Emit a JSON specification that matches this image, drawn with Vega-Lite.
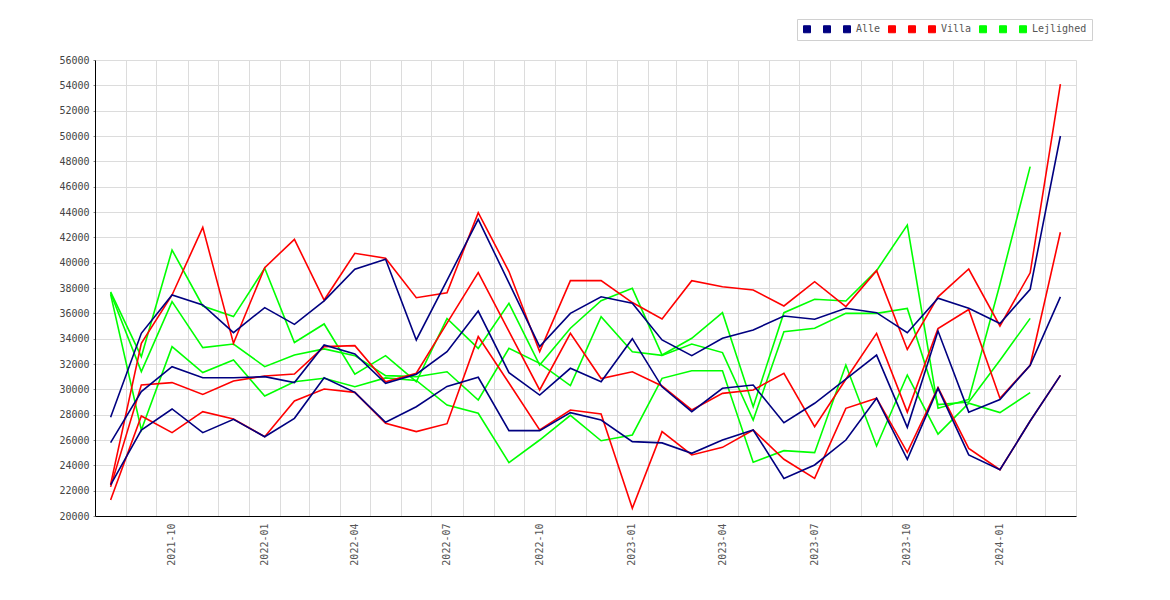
{
  "$schema": "https://vega.github.io/schema/vega-lite/v6.json",
  "width": 981,
  "height": 456,
  "autosize": {"type": "none"},
  "padding": {"left": 95, "top": 60, "right": 94, "bottom": 84},
  "background": "white",
  "config": {"view": {"stroke": null}, "font": "DejaVu Sans Mono"},
  "data": {
    "values": [
      {"m": "2021-08-16T12:00:00", "Alle_a": 27790, "Alle_b": 25790, "Alle": 22450, "Villa_a": 22500, "Villa_b": 22300, "Villa": 21260, "Lejlighed_a": 37700, "Lejlighed_b": 37600, "Lejlighed": 37500},
      {"m": "2021-09-16T00:00:00", "Alle_a": 34420, "Alle_b": 29820, "Alle": 26790, "Villa_a": 33630, "Villa_b": 30340, "Villa": 27900, "Lejlighed_a": 32580, "Lejlighed_b": 31400, "Lejlighed": 26790},
      {"m": "2021-10-16T12:00:00", "Alle_a": 37450, "Alle_b": 31790, "Alle": 28450, "Villa_a": 37450, "Villa_b": 30530, "Villa": 26580, "Lejlighed_a": 41000, "Lejlighed_b": 36920, "Lejlighed": 33370},
      {"m": "2021-11-16T00:00:00", "Alle_a": 36660, "Alle_b": 30920, "Alle": 26580, "Villa_a": 42790, "Villa_b": 29600, "Villa": 28240, "Lejlighed_a": 36580, "Lejlighed_b": 33290, "Lejlighed": 31320},
      {"m": "2021-12-16T12:00:00", "Alle_a": 34480, "Alle_b": 30920, "Alle": 27630, "Villa_a": 33630, "Villa_b": 30660, "Villa": 27660, "Lejlighed_a": 35740, "Lejlighed_b": 33580, "Lejlighed": 32320},
      {"m": "2022-01-16T12:00:00", "Alle_a": 36450, "Alle_b": 31000, "Alle": 26260, "Villa_a": 39610, "Villa_b": 31050, "Villa": 26260, "Lejlighed_a": 39560, "Lejlighed_b": 31790, "Lejlighed": 29470},
      {"m": "2022-02-15T00:00:00", "Alle_a": 35130, "Alle_b": 30530, "Alle": 27710, "Villa_a": 41840, "Villa_b": 31210, "Villa": 29080, "Lejlighed_a": 33700, "Lejlighed_b": 32710, "Lejlighed": 30600},
      {"m": "2022-03-16T12:00:00", "Alle_a": 36980, "Alle_b": 33500, "Alle": 30920, "Villa_a": 37050, "Villa_b": 33370, "Villa": 30030, "Lejlighed_a": 35160, "Lejlighed_b": 33190, "Lejlighed": 30870},
      {"m": "2022-04-16T00:00:00", "Alle_a": 39480, "Alle_b": 32790, "Alle": 29760, "Villa_a": 40740, "Villa_b": 33450, "Villa": 29760, "Lejlighed_a": 31190, "Lejlighed_b": 32660, "Lejlighed": 30210},
      {"m": "2022-05-16T12:00:00", "Alle_a": 40270, "Alle_b": 30480, "Alle": 27400, "Villa_a": 40350, "Villa_b": 30600, "Villa": 27320, "Lejlighed_a": 32660, "Lejlighed_b": 31080, "Lejlighed": 30900},
      {"m": "2022-06-16T00:00:00", "Alle_a": 33900, "Alle_b": 31190, "Alle": 28630, "Villa_a": 37230, "Villa_b": 31270, "Villa": 26660, "Lejlighed_a": 30600, "Lejlighed_b": 31000, "Lejlighed": 30700},
      {"m": "2022-07-16T12:00:00", "Alle_a": 38600, "Alle_b": 32970, "Alle": 30230, "Villa_a": 37630, "Villa_b": 35230, "Villa": 27290, "Lejlighed_a": 35590, "Lejlighed_b": 31390, "Lejlighed": 28760},
      {"m": "2022-08-16T12:00:00", "Alle_a": 43420, "Alle_b": 36180, "Alle": 30950, "Villa_a": 43950, "Villa_b": 39210, "Villa": 34160, "Lejlighed_a": 33230, "Lejlighed_b": 29160, "Lejlighed": 28110},
      {"m": "2022-09-16T00:00:00", "Alle_a": 38400, "Alle_b": 31320, "Alle": 26740, "Villa_a": 39300, "Villa_b": 34580, "Villa": 30500, "Lejlighed_a": 36790, "Lejlighed_b": 33240, "Lejlighed": 24210},
      {"m": "2022-10-16T12:00:00", "Alle_a": 33370, "Alle_b": 29550, "Alle": 26740, "Villa_a": 32980, "Villa_b": 29950, "Villa": 26790, "Lejlighed_a": 31920, "Lejlighed_b": 32050, "Lejlighed": 26000},
      {"m": "2022-11-16T00:00:00", "Alle_a": 36000, "Alle_b": 31660, "Alle": 28160, "Villa_a": 38580, "Villa_b": 34420, "Villa": 28370, "Lejlighed_a": 34820, "Lejlighed_b": 30300, "Lejlighed": 27950},
      {"m": "2022-12-16T12:00:00", "Alle_a": 37310, "Alle_b": 30600, "Alle": 27580, "Villa_a": 38580, "Villa_b": 30850, "Villa": 28050, "Lejlighed_a": 37000, "Lejlighed_b": 35740, "Lejlighed": 25940},
      {"m": "2023-01-16T12:00:00", "Alle_a": 36790, "Alle_b": 34000, "Alle": 25870, "Villa_a": 36850, "Villa_b": 31390, "Villa": 20610, "Lejlighed_a": 37970, "Lejlighed_b": 32970, "Lejlighed": 26400},
      {"m": "2023-02-15T00:00:00", "Alle_a": 33900, "Alle_b": 30200, "Alle": 25770, "Villa_a": 35560, "Villa_b": 30270, "Villa": 26660, "Lejlighed_a": 32710, "Lejlighed_b": 32680, "Lejlighed": 30870},
      {"m": "2023-03-16T12:00:00", "Alle_a": 32660, "Alle_b": 28240, "Alle": 24950, "Villa_a": 38580, "Villa_b": 28370, "Villa": 24820, "Lejlighed_a": 34030, "Lejlighed_b": 33580, "Lejlighed": 31470},
      {"m": "2023-04-16T00:00:00", "Alle_a": 34030, "Alle_b": 30080, "Alle": 26000, "Villa_a": 38100, "Villa_b": 29680, "Villa": 25420, "Lejlighed_a": 36050, "Lejlighed_b": 32900, "Lejlighed": 31470},
      {"m": "2023-05-16T12:00:00", "Alle_a": 34690, "Alle_b": 30340, "Alle": 26790, "Villa_a": 37840, "Villa_b": 29950, "Villa": 26790, "Lejlighed_a": 28630, "Lejlighed_b": 27580, "Lejlighed": 24240},
      {"m": "2023-06-16T00:00:00", "Alle_a": 35790, "Alle_b": 27370, "Alle": 22970, "Villa_a": 36580, "Villa_b": 31270, "Villa": 24480, "Lejlighed_a": 36050, "Lejlighed_b": 34550, "Lejlighed": 25160},
      {"m": "2023-07-16T12:00:00", "Alle_a": 35530, "Alle_b": 28900, "Alle": 24030, "Villa_a": 38500, "Villa_b": 27050, "Villa": 22970, "Lejlighed_a": 37110, "Lejlighed_b": 34820, "Lejlighed": 25000},
      {"m": "2023-08-16T12:00:00", "Alle_a": 36400, "Alle_b": 30800, "Alle": 26000, "Villa_a": 36530, "Villa_b": 30800, "Villa": 28500, "Lejlighed_a": 36970, "Lejlighed_b": 36000, "Lejlighed": 31920},
      {"m": "2023-09-16T00:00:00", "Alle_a": 36050, "Alle_b": 32700, "Alle": 29300, "Villa_a": 39370, "Villa_b": 34420, "Villa": 29300, "Lejlighed_a": 39370, "Lejlighed_b": 36000, "Lejlighed": 25530},
      {"m": "2023-10-16T12:00:00", "Alle_a": 34470, "Alle_b": 27000, "Alle": 24480, "Villa_a": 33150, "Villa_b": 28200, "Villa": 25030, "Lejlighed_a": 42970, "Lejlighed_b": 36390, "Lejlighed": 31130},
      {"m": "2023-11-16T00:00:00", "Alle_a": 37200, "Alle_b": 34600, "Alle": 30080, "Villa_a": 37300, "Villa_b": 34800, "Villa": 30130, "Lejlighed_a": 28500, "Lejlighed_b": 28800, "Lejlighed": 26470},
      {"m": "2023-12-16T12:00:00", "Alle_a": 36400, "Alle_b": 28200, "Alle": 24820, "Villa_a": 39500, "Villa_b": 36300, "Villa": 25340, "Lejlighed_a": 29200, "Lejlighed_b": 29000, "Lejlighed": 28900},
      {"m": "2024-01-16T12:00:00", "Alle_a": 35200, "Alle_b": 29200, "Alle": 23650, "Villa_a": 35000, "Villa_b": 29300, "Villa": 23650, "Lejlighed_a": 38300, "Lejlighed_b": 32300, "Lejlighed": 28160},
      {"m": "2024-02-15T12:00:00", "Alle_a": 37900, "Alle_b": 31900, "Alle": 27500, "Villa_a": 39200, "Villa_b": 31900, "Villa": 27500, "Lejlighed_a": 47580, "Lejlighed_b": 35600, "Lejlighed": 29740},
      {"m": "2024-03-16T12:00:00", "Alle_a": 50000, "Alle_b": 37300, "Alle": 31100, "Villa_a": 54100, "Villa_b": 42400, "Villa": 31100}
    ]
  },
  "transform": [
    {"fold": ["Alle_a", "Alle_b", "Alle", "Villa_a", "Villa_b", "Villa", "Lejlighed_a", "Lejlighed_b", "Lejlighed"], "as": ["series", "value"]},
    {"filter": "datum.value != null"}
  ],
  "encoding": {
    "x": {
      "field": "m",
      "type": "temporal",
      "scale": {"domain": [{"year": 2021, "month": 8, "date": 1}, {"year": 2024, "month": 4, "date": 1}]},
      "axis": {
        "title": null,
        "tickCount": {"interval": "month", "step": 1},
        "grid": true,
        "gridColor": "#dcdcdc",
        "gridWidth": 1,
        "ticks": false,
        "domainColor": "#000000",
        "domainWidth": 1,
        "labelExpr": "month(datum.value) % 3 == 0 && datum.value < datetime(2024, 3, 1) ? timeFormat(datum.value, '%Y-%m') : ''",
        "labelAngle": 270,
        "labelOffset": 15,
        "labelPadding": 7,
        "labelFont": "DejaVu Sans Mono",
        "labelFontSize": 10,
        "labelColor": "#555555",
        "labelOverlap": false,
        "labelBound": false,
        "labelFlush": false
      }
    },
    "y": {
      "field": "value",
      "type": "quantitative",
      "scale": {"domain": [20000, 56000], "nice": false, "zero": false},
      "axis": {
        "title": null,
        "values": [20000, 22000, 24000, 26000, 28000, 30000, 32000, 34000, 36000, 38000, 40000, 42000, 44000, 46000, 48000, 50000, 52000, 54000, 56000],
        "format": "d",
        "grid": true,
        "gridColor": "#dcdcdc",
        "gridWidth": 1,
        "ticks": true,
        "tickSize": 2,
        "tickColor": "#888888",
        "domainColor": "#000000",
        "domainWidth": 1,
        "labelPadding": 4,
        "labelFont": "DejaVu Sans Mono",
        "labelFontSize": 10,
        "labelColor": "#444444"
      }
    },
    "color": {
      "field": "series",
      "type": "nominal",
      "scale": {
        "domain": ["Alle_a", "Alle_b", "Alle", "Villa_a", "Villa_b", "Villa", "Lejlighed_a", "Lejlighed_b", "Lejlighed"],
        "range": ["#000080", "#000080", "#000080", "#ff0000", "#ff0000", "#ff0000", "#00ff00", "#00ff00", "#00ff00"]
      },
      "legend": {
        "title": null,
        "orient": "none",
        "legendX": 702,
        "legendY": -41,
        "direction": "horizontal",
        "columns": 9,
        "symbolType": "square",
        "symbolSize": 49,
        "symbolStrokeWidth": 1,
        "labelFont": "DejaVu Sans Mono",
        "labelFontSize": 10,
        "labelColor": "#555555",
        "labelOffset": 4,
        "columnPadding": 5,
        "padding": 5,
        "strokeColor": "#d0d0d0",
        "fillColor": "#ffffff",
        "labelExpr": "indexof(datum.label, '_') >= 0 ? ' ' : datum.label",
        "encode": {
          "symbols": {
            "update": {
              "fill": {"scale": "color", "field": "value"},
              "stroke": {"value": "#666666"},
              "strokeWidth": {"value": 1},
              "opacity": {"value": 1}
            }
          }
        }
      }
    }
  },
  "layer": [
    {
      "transform": [{"filter": "indexof(datum.series, 'Lejlighed') == 0"}],
      "mark": {"type": "line", "strokeWidth": 1.6}
    },
    {
      "transform": [{"filter": "indexof(datum.series, 'Villa') == 0"}],
      "mark": {"type": "line", "strokeWidth": 1.6}
    },
    {
      "transform": [{"filter": "indexof(datum.series, 'Alle') == 0"}],
      "mark": {"type": "line", "strokeWidth": 1.6}
    }
  ]
}
